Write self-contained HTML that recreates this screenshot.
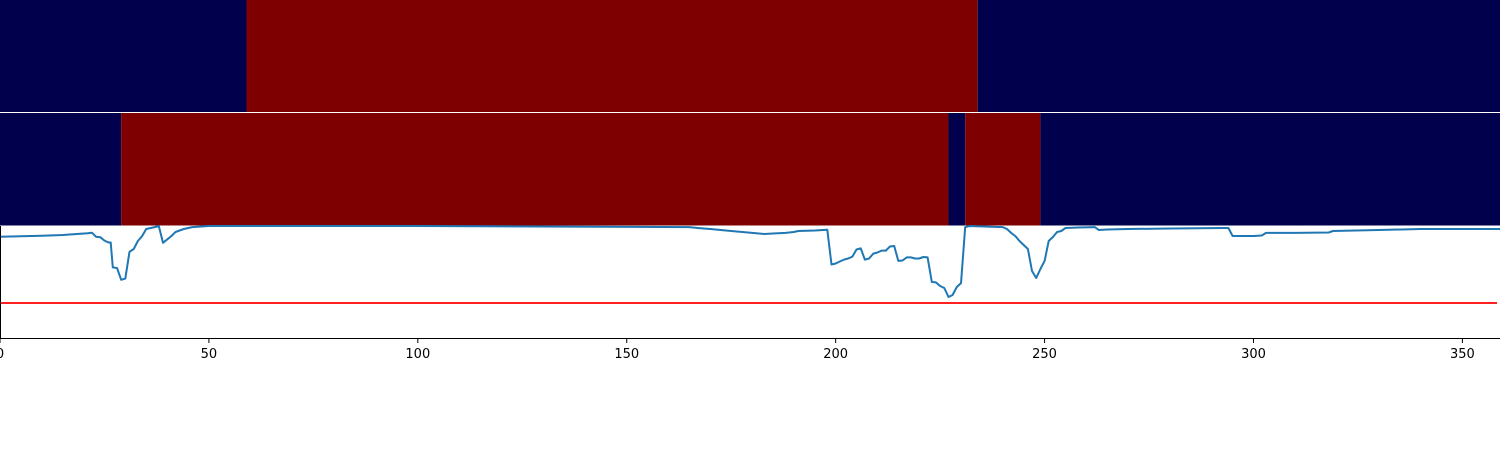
<!DOCTYPE html>
<html><head><meta charset="utf-8">
<style>
html,body{margin:0;padding:0;background:#fff;}
svg{display:block;font-family:"DejaVu Sans","Liberation Sans",sans-serif;}
</style></head>
<body>
<svg id="chart" width="1500" height="450" viewBox="0 0 1500 450" xmlns="http://www.w3.org/2000/svg">
<g id="heat"></g>
<g id="line"></g>
<g id="axis"></g>
</svg>
<script>
// data
const row1States=[0,1,0];
const row1Starts=[0,59,234];
const row2States=[0,1,0,1,0];
const row2Starts=[0,29,227,231,249];
const xs=[0,10,15,21,22,23,24,25,26,26.5,27,28,29,30,31,32,33,34,35,37,38,39,41,42,44,46,50,100,165,167,170,175,180,183,185,188,190,191,195,197,198,199,200,201,202,203,204,205,206,207,208,209,210,211,212,213,214,215,216,217,218,219,220,221,222,223,224,225,226,227,228,229,230,231,232,240,241,242,243,244,245,246,247,248,249,250,251,252,253,254,255,258,262,263,265,270,280,293,294,295,300,302,303,310,318,319,330,340,359];
const ys=[0.904,0.913,0.92,0.935,0.94,0.904,0.9,0.87,0.853,0.853,0.63,0.625,0.52,0.53,0.77,0.795,0.866,0.91,0.973,0.99,1.0,0.85,0.91,0.946,0.973,0.99,1.0,1.0,0.99,0.982,0.973,0.955,0.938,0.929,0.933,0.938,0.946,0.955,0.96,0.964,0.967,0.656,0.665,0.683,0.7,0.71,0.727,0.79,0.8,0.7,0.71,0.754,0.763,0.78,0.78,0.817,0.821,0.688,0.692,0.72,0.72,0.71,0.71,0.723,0.72,0.5,0.496,0.464,0.446,0.366,0.384,0.455,0.49,0.99,1.0,0.99,0.973,0.938,0.911,0.866,0.83,0.795,0.598,0.536,0.616,0.688,0.866,0.902,0.946,0.955,0.982,0.987,0.99,0.964,0.969,0.973,0.978,0.982,0.982,0.911,0.911,0.915,0.938,0.938,0.942,0.955,0.964,0.973,0.973];
const threshold=[0.3125];
const tickVals=[0,50,100,150,200,250,300,350];
const tickLabels=["0","50","100","150","200","250","300","350"];
const colors=["#00004c","#7f0000"];
const NS="http://www.w3.org/2000/svg";
const XMAX=359;
const sx=v=>v/XMAX*1500;
const P={top:226,bot:338};
const sy=v=>P.bot-v*(P.bot-P.top);
function mk(tag,attrs,parent){const e=document.createElementNS(NS,tag);for(const k in attrs)e.setAttribute(k,attrs[k]);parent.appendChild(e);return e;}
const heat=document.getElementById('heat');
function drawRow(states,starts,y0,h,name){
  for(let i=0;i<states.length;i++){
    const x0=sx(starts[i]);const x1=i+1<starts.length?sx(starts[i+1]):1500;
    const r=mk('rect',{x:x0,y:y0,width:x1-x0,height:h,fill:colors[states[i]]},heat);
    
    
  }
}
drawRow(row1States,row1Starts,0,112,'row1');
drawRow(row2States,row2Starts,113,112.5,'row2');
const line=document.getElementById('line');
let d='';xs.forEach((x,i)=>{d+=(i?'L':'M')+sx(x).toFixed(1)+','+sy(ys[i]).toFixed(1);});
const p=mk('path',{d:d,fill:'none',stroke:'#1f77b4','stroke-width':2,'stroke-linejoin':'round'},line);


const th=mk('line',{x1:0,x2:1497,y1:sy(threshold[0]),y2:sy(threshold[0]),stroke:'#ff0000','stroke-width':1.8},line);


const ax=document.getElementById('axis');
const sp=mk('line',{x1:0.5,x2:0.5,y1:P.top,y2:P.bot+0.5,stroke:'#000','stroke-width':1},ax);


const bs=mk('line',{x1:0,x2:1500,y1:P.bot+0.5,y2:P.bot+0.5,stroke:'#000','stroke-width':1},ax);


tickVals.forEach((v,i)=>{
  const x=sx(v);
  const t=mk('line',{x1:x,x2:x,y1:P.bot,y2:P.bot+5,stroke:'#000','stroke-width':1},ax);
  
  
  const tx=mk('text',{x:x,y:P.bot+20,'text-anchor':'middle','font-size':13,fill:'#000'},ax);
  tx.textContent=tickLabels[i];
  
  
});
</script>
</body></html>
